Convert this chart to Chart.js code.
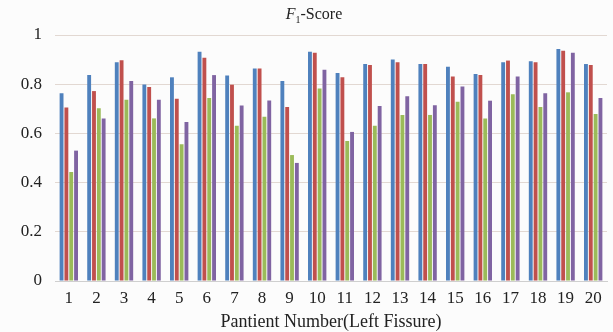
<!DOCTYPE html>
<html>
<head>
<meta charset="utf-8">
<script src="https://cdn.jsdelivr.net/npm/chart.js@4/dist/chart.umd.min.js"></script>
<style>
  html, body { margin: 0; padding: 0; background: #fcfcfc; }
  #wrap { width: 613px; height: 332px; }
</style>
</head>
<body>
<div id="wrap"><canvas id="chartF1"></canvas></div>
<script>
// patient numbers
var patients = ['1','2','3','4','5','6','7','8','9','10','11','12','13','14','15','16','17','18','19','20'];

// F1 scores, one array per method
var seriesBlue   = [0.763, 0.837, 0.889, 0.799, 0.828, 0.932, 0.835, 0.864, 0.813, 0.932, 0.846, 0.882, 0.900, 0.882, 0.871, 0.841, 0.889, 0.893, 0.943, 0.882];
var seriesRed    = [0.705, 0.772, 0.897, 0.789, 0.741, 0.908, 0.798, 0.864, 0.707, 0.928, 0.828, 0.878, 0.889, 0.882, 0.831, 0.837, 0.896, 0.889, 0.936, 0.878];
var seriesGreen  = [0.443, 0.702, 0.737, 0.661, 0.556, 0.744, 0.631, 0.668, 0.512, 0.783, 0.569, 0.631, 0.675, 0.675, 0.729, 0.661, 0.759, 0.707, 0.767, 0.679];
var seriesPurple = [0.530, 0.661, 0.813, 0.737, 0.646, 0.837, 0.713, 0.734, 0.480, 0.859, 0.606, 0.711, 0.751, 0.714, 0.791, 0.733, 0.831, 0.763, 0.928, 0.744];

var yTicks = [0, 0.2, 0.4, 0.6, 0.8, 1];

var serif = '"Liberation Serif", "DejaVu Serif", serif';

// draws the title with italic F and subscript 1
var titlePlugin = {
    id: 'f1Title',
    afterDraw: function(chart) {
        var ctx = chart.ctx;
        var cx = 314;
        var y = 19;
        ctx.save();
        ctx.fillStyle = '#222';
        ctx.textBaseline = 'alphabetic';
        ctx.font = 'italic 16px ' + serif;
        var wF = ctx.measureText('F').width;
        ctx.font = '10px ' + serif;
        var w1 = ctx.measureText('1').width;
        ctx.font = '16px ' + serif;
        var wS = ctx.measureText('-Score').width;
        var x = cx - (wF + w1 + wS) / 2;
        ctx.font = 'italic 16px ' + serif;
        ctx.fillText('F', x, y);
        ctx.font = '10px ' + serif;
        ctx.fillText('1', x + wF, y + 4);
        ctx.font = '16px ' + serif;
        ctx.fillText('-Score', x + wF + w1, y);
        ctx.restore();
    }
};

var chartData = {
    labels: patients,
    datasets: [{
        label: 'Method 1',
        data: seriesBlue,
        backgroundColor: '#4f81bd'
        },{
        label: 'Method 2',
        data: seriesRed,
        backgroundColor: '#c0504d'
        },{
        label: 'Method 3',
        data: seriesGreen,
        backgroundColor: '#9bbb59'
        },{
        label: 'Method 4',
        data: seriesPurple,
        backgroundColor: '#8064a2'
        }
    ]
};

var ctx = document.getElementById('chartF1');
var myBarChart = new Chart(ctx, {
    type: 'bar',
    data: chartData,
    plugins: [titlePlugin],
    options: {
        responsive: true,
        maintainAspectRatio: false,
        animation: false,
        layout: { padding: { top: 35, right: 6, left: 0, bottom: 0 } },
        datasets: {
            bar: { categoryPercentage: 0.7, barPercentage: 0.8 }
        },
        plugins: {
            legend: { display: false },
            title: { display: false },
            tooltip: { enabled: false }
        },
        scales: {
            x: {
                afterFit: function(axis) { axis.height = 51; },
                grid: { display: false, drawTicks: false },
                border: { color: '#cfcfcf' },
                ticks: { color: '#222', font: { family: serif, size: 17, lineHeight: 1.2 }, padding: 7, maxRotation: 0, autoSkip: false },
                title: {
                    display: true,
                    text: 'Pantient Number(Left Fissure)',
                    color: '#222',
                    font: { family: serif, size: 18, lineHeight: 1 },
                    padding: { top: 2, bottom: 1 }
                }
            },
            y: {
                min: 0,
                max: 1,
                afterBuildTicks: function(axis) {
                    axis.ticks = yTicks.map(function(v) { return { value: v }; });
                },
                afterFit: function(axis) { axis.width = 55; },
                grid: { color: '#e2d8d2', drawTicks: false },
                border: { display: false },
                ticks: {
                    color: '#222',
                    font: { family: serif, size: 17 },
                    padding: 13,
                    callback: function(v) { return String(+v.toFixed(1)); }
                }
            }
        }
    }
});
</script>
</body>
</html>
